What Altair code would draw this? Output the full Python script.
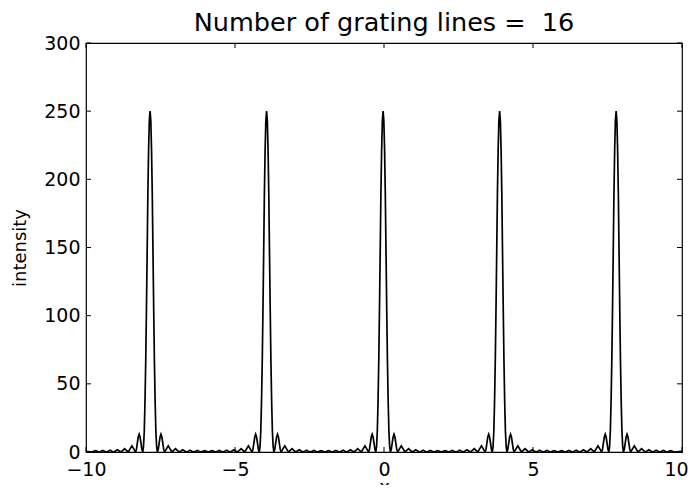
import altair as alt
import pandas as pd

# Peak centres
peak_centres = [-7.85, -3.94, -0.03, 3.88, 7.79]
# Half-profile of one principal maximum (offset from centre, intensity)
profile_offsets = [0.000, 0.025, 0.049, 0.074, 0.098, 0.122, 0.146, 0.171, 0.195, 0.220, 0.244,
                   0.275, 0.305, 0.336, 0.366, 0.397, 0.427, 0.458, 0.488,
                   0.549, 0.610, 0.671, 0.732,
                   0.793, 0.854, 0.915, 0.976,
                   1.037, 1.098, 1.159, 1.220,
                   1.281, 1.342, 1.403, 1.464,
                   1.525, 1.586, 1.647, 1.708,
                   1.769, 1.830, 1.891, 1.952]
profile_values = [250, 243, 222, 189, 146, 104, 66, 36, 15, 4, 0,
                  1.9, 6.5, 11, 13, 11, 6.5, 1.9, 0,
                  2.3, 4.5, 2.3, 0,
                  1.2, 2.4, 1.2, 0,
                  0.8, 1.6, 0.8, 0,
                  0.6, 1.3, 0.6, 0,
                  0.5, 1.1, 0.5, 0,
                  0.5, 1.0, 0.5, 0]
edge_x = [-10.0, 10.0]
edge_y = [0.4, 0.4]

x_ticks = [-10, -5, 0, 5, 10]
y_ticks = [0, 50, 100, 150, 200, 250, 300]

rows = []
for c in peak_centres:
    for o, v in zip(profile_offsets, profile_values):
        rows.append((c + o, v))
        if o > 0:
            rows.append((c - o, v))
for xe, ye in zip(edge_x, edge_y):
    rows.append((xe, ye))
df = pd.DataFrame(rows, columns=["x", "intensity"])
df = df[(df.x >= -10) & (df.x <= 10)].sort_values("x")

FONT = "DejaVu Sans"
xs = alt.Scale(domain=[-10, 10], nice=False, zero=False)
ys = alt.Scale(domain=[0, 300], nice=False, zero=False)

line = alt.Chart(df).mark_line(color="black", strokeWidth=1.7, clip=True).encode(
    x=alt.X("x:Q", scale=xs,
            axis=alt.Axis(values=x_ticks, title="x", domain=False, ticks=False, grid=False,
                          labelFlush=False, labelOverlap=False,
                          labelOffset={"condition": {"test": "datum.value == 10", "value": -6}, "value": 0},
                          labelFont=FONT, labelFontSize=19, labelColor="black", labelPadding=8,
                          titleFont=FONT, titleFontSize=18, titleFontWeight="normal",
                          titleColor="black", titlePadding=-1, format="d")),
    y=alt.Y("intensity:Q", scale=ys,
            axis=alt.Axis(values=y_ticks, title="intensity", domain=False, ticks=False, grid=False,
                          labelFlush=False, labelOverlap=False,
                          labelFont=FONT, labelFontSize=19, labelColor="black", labelPadding=6,
                          titleFont=FONT, titleFontSize=18, titleFontWeight="normal",
                          titleColor="black", titlePadding=14)),
)

xt = pd.DataFrame({"t": x_ticks})
yt = pd.DataFrame({"t": y_ticks})

bottom_ticks = alt.Chart(xt).mark_rule(color="black", strokeWidth=1).encode(
    x=alt.X("t:Q", scale=xs), y=alt.value(409), y2=alt.value(404))
top_ticks = alt.Chart(xt).mark_rule(color="black", strokeWidth=1).encode(
    x=alt.X("t:Q", scale=xs), y=alt.value(0), y2=alt.value(5))
left_ticks = alt.Chart(yt).mark_rule(color="black", strokeWidth=1).encode(
    y=alt.Y("t:Q", scale=ys), x=alt.value(0), x2=alt.value(5))
right_ticks = alt.Chart(yt).mark_rule(color="black", strokeWidth=1).encode(
    y=alt.Y("t:Q", scale=ys), x=alt.value(596), x2=alt.value(591))

chart = alt.layer(line, bottom_ticks, top_ticks, left_ticks, right_ticks).properties(
    width=596, height=409,
    title=alt.TitleParams("Number of grating lines =\u00a0 16", font=FONT, fontSize=25.5,
                          fontWeight="normal", color="black", offset=-2),
    autosize=alt.AutoSizeParams(type="none"),
    padding={"left": 78, "top": 35, "right": 6, "bottom": 33},
    background="white",
).configure_view(stroke="black", strokeWidth=1.2)

chart.save("out.html", embed_options={"renderer": "svg", "actions": False})
